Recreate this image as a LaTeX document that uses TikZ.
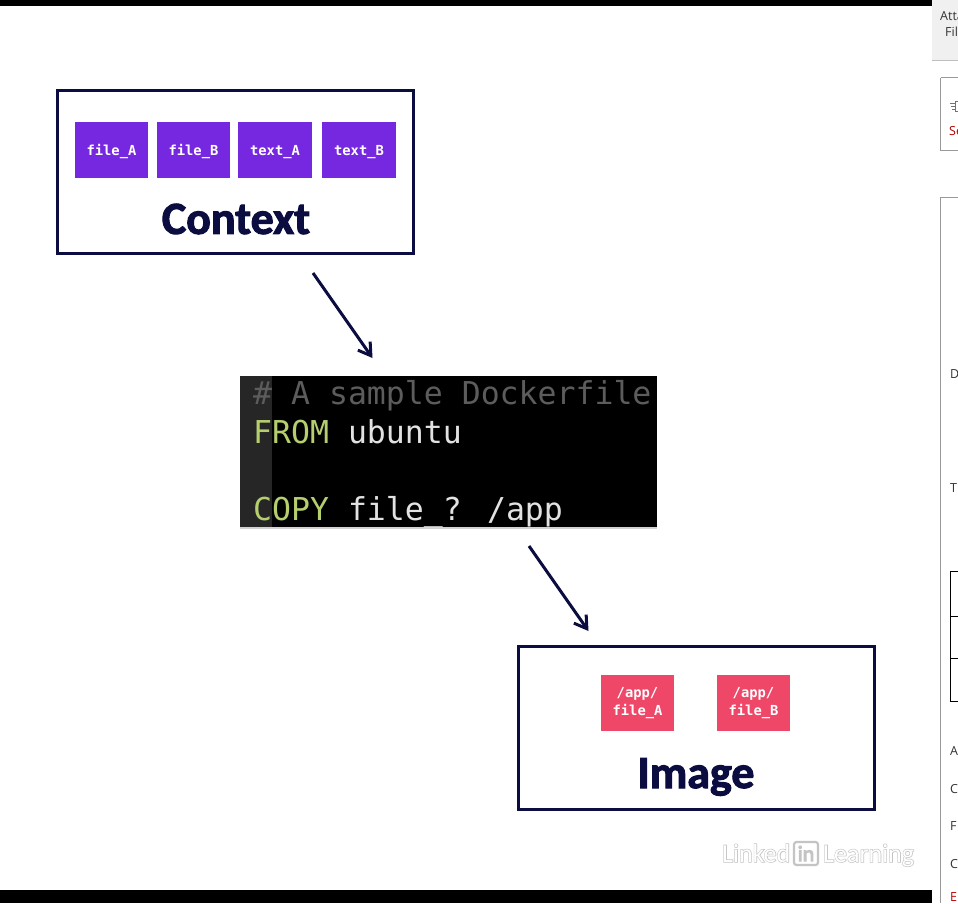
\documentclass[tikz,border=0pt]{standalone}
\usepackage{fontspec}
\setmainfont{Open Sans}
\newfontfamily\titlef[FakeBold=2.2]{Carlito Bold}
\newfontfamily\monof{DejaVu Sans Mono}
\newfontfamily\uif{Open Sans}
\newfontfamily\logof[FakeBold=4.5]{Carlito}
\newfontfamily\logoi{Carlito}
\usetikzlibrary{arrows.meta,shadows}
\definecolor{navy}{HTML}{0B0C40}
\definecolor{purp}{HTML}{7627E0}
\definecolor{pinkb}{HTML}{EE4768}
\definecolor{kw}{HTML}{B5CE6E}
\definecolor{cmt}{HTML}{5C5C5C}
\definecolor{plain}{HTML}{E2E2E2}
\definecolor{logog}{HTML}{C4C4C4}
\tikzset{
 x=1pt,y=-1pt,
 framebox/.style={draw=navy,line width=3pt,fill=white,inner sep=0pt},
 chip/.style={inner sep=0pt,minimum width=73.5pt,minimum height=56pt,text=white,align=center,
   font=\monof\bfseries\fontsize{13.8}{17.5}\selectfont},
 purplechip/.style={chip,fill=purp,text depth=0pt},
 pinkchip/.style={chip,fill=pinkb},
 bigtitle/.style={inner sep=0pt,text=navy,font=\titlef\fontsize{46}{46}\selectfont},
 flow/.style={draw=navy,line width=3pt,-{Straight Barb[length=12pt,width=15pt,line width=3pt]}},
 codeline/.style={anchor=base west,inner sep=0pt,font=\monof\fontsize{31.5}{32}\selectfont},
 uitext/.style={anchor=base west,inner sep=0pt,font=\uif\fontsize{12.5}{13}\selectfont,text=black!80},
 logoback/.style={anchor=base west,inner sep=0pt,text=logog},
 logofront/.style={anchor=base west,inner sep=0pt,text=white},
}
\begin{document}
\begin{tikzpicture}
\useasboundingbox (0,0) rectangle (958,903);
\clip (0,0) rectangle (958,903);
\fill[white] (0,0) rectangle (958,903);
% video bars
\fill[black] (0,0) rectangle (932,6);
\fill[black] (0,890) rectangle (932,903);
% side panel
\fill[black!6] (932,0) rectangle (958,60);
\draw[black!25,line width=1pt] (932,60) -- (958,60);
\draw[black!40,line width=1pt] (940.5,77.5) -- (940.5,150.5) -- (958,150.5);
\draw[black!40,line width=1pt] (940.5,77.5) -- (958,77.5);
\draw[black!40,line width=1pt] (958,197.5) -- (940.5,197.5) -- (940.5,903);
\draw[black,line width=1pt] (958,571.5) -- (950.5,571.5) -- (950.5,701.5) -- (958,701.5);
\draw[black,line width=1pt] (950.5,616.5) -- (958,616.5);
\draw[black,line width=1pt] (950.5,658.5) -- (958,658.5);
\node[uitext] (s1) at (940,20) {Atta};
\node[uitext] (s2) at (945,36) {Fil};
\node[uitext,text=red!70!black] (s3) at (949,135) {Se};
\node[uitext] (s4) at (950,378) {D};
\node[uitext] (s5) at (950,492) {T};
\node[uitext] (s6) at (950,755) {A};
\node[uitext] (s7) at (950,793) {C};
\node[uitext] (s8) at (950,830) {F};
\node[uitext] (s9) at (950,868) {C};
\node[uitext,text=red!75!black] (s10) at (950,901) {E};
\draw[black!55,line width=.7pt] (950,103) -- (955,103) (951,106) -- (955,106) (952,109) -- (955,109) (955.5,101) -- (958,101) (955.5,101) -- (955.5,111) -- (958,111);
% context
\node[framebox,minimum width=356pt,minimum height=163pt] (ctx) at (235.5,172) {};
\node[purplechip] (a1) at (111.5,150) {file\_A};
\node[purplechip] (a2) at (193.5,150) {file\_B};
\node[purplechip] (a3) at (275,150) {text\_A};
\node[purplechip] (a4) at (359,150) {text\_B};
\node[bigtitle] (ctxt) at (236,219) {Context};
% code
\node[fill=black,inner sep=0pt,minimum width=417pt,minimum height=151pt,
  drop shadow={shadow xshift=0pt,shadow yshift=-1.5pt,opacity=.35}] (code) at (448.5,451.5) {};
\fill[black!85] (code.north west) rectangle ([xshift=32pt]code.south west);
\node[codeline,text=cmt] (c1) at (253,404) {\# A sample Dockerfile};
\node[codeline,text=kw] (c2) at (253,443) {FROM\textcolor{plain}{\ ubuntu}};
\node[codeline,text=kw] (c3) at (253,520) {COPY\textcolor{plain}{\ file\_? /app}};
% image
\node[framebox,minimum width=356pt,minimum height=163pt] (img) at (696,728) {};
\node[pinkchip] (b1) at (637.5,703) {/app/\\file\_A};
\node[pinkchip] (b2) at (753.5,703) {/app/\\file\_B};
\node[bigtitle] (imgt) at (696,777) {Image};
% arrows
\coordinate (p1) at (313,273);
\coordinate (p2) at (372.5,358);
\coordinate (p3) at (529,546);
\coordinate (p4) at (588.5,631);
\draw[flow] (p1) -- (p2);
\draw[flow] (p3) -- (p4);
% logo
\node[logoback,font=\logof\fontsize{26}{26}\selectfont] (l1) at (722,862) {Linked};
\node[logofront,font=\logoi\fontsize{26}{26}\selectfont] (l1w) at (l1.base west) {Linked};
\node[draw=logog,line width=2.2pt,rounded corners=2.5pt,minimum width=24pt,minimum height=23pt,inner sep=0pt] (lb) at (806,853.5) {};
\node[inner sep=0pt,text=logog,font=\logof\fontsize{22}{22}\selectfont] (lin) at (lb.center) {in};
\node[logoback,font=\logof\fontsize{26}{26}\selectfont] (l2) at (823,862) {Learning};
\node[logofront,font=\logoi\fontsize{26}{26}\selectfont] (l2w) at (l2.base west) {Learning};
\end{tikzpicture}
\end{document}
